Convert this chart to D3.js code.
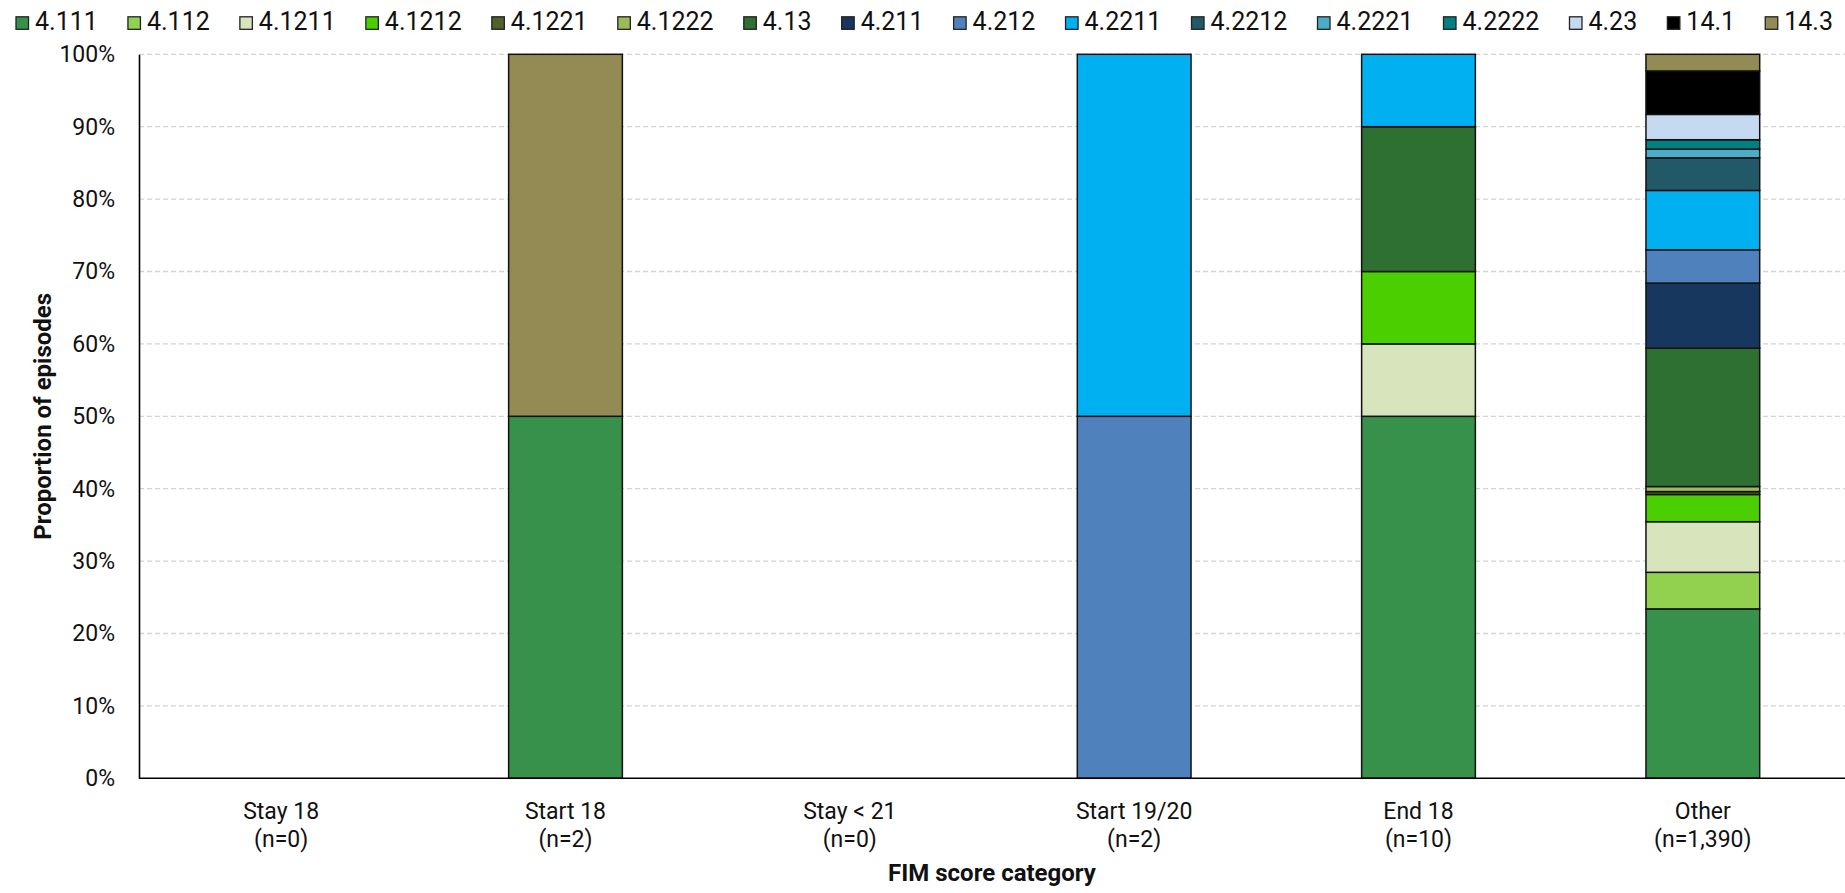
<!DOCTYPE html>
<html>
<head>
<meta charset="utf-8">
<script src="https://cdn.jsdelivr.net/npm/d3@7"></script>
<style>
  html, body { margin: 0; padding: 0; background: #fff; }
  svg { display: block; font-family: Roboto, "Open Sans", sans-serif; }
</style>
</head>
<body>
<svg id="chart" width="1845" height="893"></svg>
<script>
// ---- data ----
const categories = ["Stay 18", "Start 18", "Stay < 21", "Start 19/20", "End 18", "Other"];
const categoryCounts = ["(n=0)", "(n=2)", "(n=0)", "(n=2)", "(n=10)", "(n=1,390)"];

const seriesNames = ["4.111", "4.112", "4.1211", "4.1212", "4.1221", "4.1222", "4.13", "4.211",
                     "4.212", "4.2211", "4.2212", "4.2221", "4.2222", "4.23", "14.1", "14.3"];
const seriesColors = ["#37914A", "#92D050", "#D8E4BC", "#4CCF00", "#4F6228", "#9BBB59", "#2E7031", "#17375E",
                      "#4F81BD", "#00B0F0", "#215968", "#4BACC6", "#008080", "#C5D9F1", "#000000", "#948A54"];

// values (% of episodes) per series, one entry per category
const v4_111   = [0, 50, 0, 0, 50, 23.4];
const v4_112   = [0, 0, 0, 0, 0, 5.05];
const v4_1211  = [0, 0, 0, 0, 10, 6.99];
const v4_1212  = [0, 0, 0, 0, 10, 3.76];
const v4_1221  = [0, 0, 0, 0, 0, 0.4];
const v4_1222  = [0, 0, 0, 0, 0, 0.7];
const v4_13    = [0, 0, 0, 0, 20, 19.1];
const v4_211   = [0, 0, 0, 0, 0, 9.0];
const v4_212   = [0, 0, 0, 50, 0, 4.6];
const v4_2211  = [0, 0, 0, 50, 10, 8.2];
const v4_2212  = [0, 0, 0, 0, 0, 4.5];
const v4_2221  = [0, 0, 0, 0, 0, 1.2];
const v4_2222  = [0, 0, 0, 0, 0, 1.3];
const v4_23    = [0, 0, 0, 0, 0, 3.5];
const v14_1    = [0, 0, 0, 0, 0, 6.0];
const v14_3    = [0, 50, 0, 0, 0, 2.3];

const yTicks = [0, 10, 20, 30, 40, 50, 60, 70, 80, 90, 100];
const xTitle = "FIM score category";
const yTitle = "Proportion of episodes";

// ---- build table ----
const seriesValues = [v4_111, v4_112, v4_1211, v4_1212, v4_1221, v4_1222, v4_13, v4_211,
                      v4_212, v4_2211, v4_2212, v4_2221, v4_2222, v4_23, v14_1, v14_3];
const table = categories.map((c, i) => {
  const row = { category: c };
  seriesNames.forEach((s, j) => { row[s] = seriesValues[j][i]; });
  return row;
});

// ---- layout ----
const W = 1845, H = 893;
const margin = { left: 139, right: 0, top: 54.3, bottom: H - 778.3 };
const svg = d3.select("#chart");

const x = d3.scaleBand().domain(categories)
  .range([margin.left, W - margin.right]).paddingInner(0.6).paddingOuter(0.3);
const y = d3.scaleLinear().domain([0, 100]).range([H - margin.bottom, margin.top]);

// gridlines
svg.append("g").selectAll("line").data(yTicks.filter(t => t > 0)).join("line")
  .attr("x1", margin.left).attr("x2", W - margin.right)
  .attr("y1", d => y(d)).attr("y2", d => y(d))
  .attr("stroke", "#d4d4d4").attr("stroke-width", 1.3).attr("stroke-dasharray", "5,3");

// stacked bars
const stack = d3.stack().keys(seriesNames);
const stacked = stack(table);
const color = d3.scaleOrdinal().domain(seriesNames).range(seriesColors);

svg.append("g").selectAll("g").data(stacked).join("g")
  .attr("fill", d => color(d.key))
  .selectAll("rect").data(d => d.filter(p => p[1] - p[0] > 0)).join("rect")
  .attr("x", d => x(d.data.category))
  .attr("width", x.bandwidth())
  .attr("y", d => y(d[1]))
  .attr("height", d => y(d[0]) - y(d[1]))
  .attr("stroke", "#111").attr("stroke-width", 1.5);

// y axis
const yAxis = svg.append("g").attr("transform", `translate(${margin.left},0)`)
  .call(d3.axisLeft(y).tickValues(yTicks).tickFormat(d => d + "%").tickSize(0).tickPadding(24));
yAxis.select(".domain").attr("stroke", "#000").attr("stroke-width", 1.6);
yAxis.selectAll("text").attr("font-size", 23).attr("fill", "#111")
  .attr("font-family", "Roboto, sans-serif");

// x axis
const xAxis = svg.append("g").attr("transform", `translate(0,${H - margin.bottom})`)
  .call(d3.axisBottom(x).tickSize(0).tickFormat(""));
xAxis.select(".domain").attr("stroke", "#000").attr("stroke-width", 1.6)
  .attr("d", `M${margin.left},0H${W - margin.right}`);

const xLab = svg.append("g").selectAll("text").data(categories).join("text")
  .attr("x", d => x(d) + x.bandwidth() / 2)
  .attr("text-anchor", "middle").attr("font-size", 23).attr("fill", "#111");
xLab.append("tspan").attr("x", d => x(d) + x.bandwidth() / 2).attr("y", 819).text(d => d);
xLab.append("tspan").attr("x", d => x(d) + x.bandwidth() / 2).attr("y", 847)
  .text((d, i) => categoryCounts[i]);

// axis titles
svg.append("text").attr("x", (margin.left + W - margin.right) / 2).attr("y", 881)
  .attr("text-anchor", "middle").attr("font-size", 24).attr("font-weight", "bold")
  .attr("fill", "#111").text(xTitle);
svg.append("text")
  .attr("transform", `translate(51,${(y(0) + y(100)) / 2}) rotate(-90)`)
  .attr("text-anchor", "middle").attr("font-size", 24).attr("font-weight", "bold")
  .attr("fill", "#111").text(yTitle);

// legend
const legend = svg.append("g");
const items = legend.selectAll("g").data(seriesNames).join("g");
items.append("rect").attr("width", 12.5).attr("height", 12.5).attr("y", 16.8)
  .attr("fill", d => color(d)).attr("stroke", "#222").attr("stroke-width", 1.3);
items.append("text").attr("x", 19).attr("y", 29.5).attr("font-size", 25).attr("fill", "#111")
  .text(d => d);
const widths = [];
items.each(function () { widths.push(19 + d3.select(this).select("text").node().getComputedTextLength()); });
const legStart = 16, legEnd = 1833;
const totalW = d3.sum(widths);
const gap = (legEnd - legStart - totalW) / (seriesNames.length - 1);
let cx = legStart;
items.attr("transform", (d, i) => { const t = `translate(${cx},0)`; cx += widths[i] + gap; return t; });
</script>
</body>
</html>
